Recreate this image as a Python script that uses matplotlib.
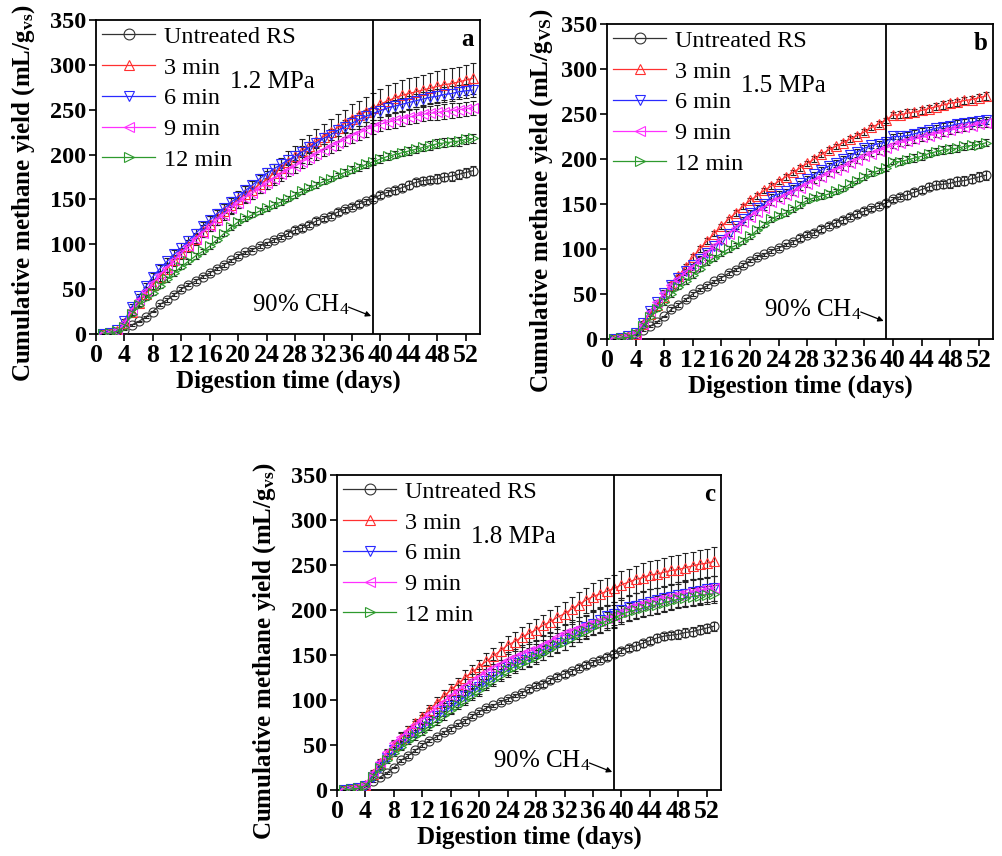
import matplotlib
matplotlib.use("Agg")
import matplotlib.pyplot as plt
import numpy as np

plt.rcParams['font.family'] = ['Liberation Serif', 'DejaVu Serif']
plt.rcParams['mathtext.fontset'] = 'custom'
plt.rcParams['mathtext.rm'] = 'Liberation Serif'
plt.rcParams['mathtext.bf'] = 'Liberation Serif:bold'
plt.rcParams['mathtext.it'] = 'Liberation Serif:italic'

days = list(range(1, 54))
series_labels = ["Untreated RS", "3 min", "6 min", "9 min", "12 min"]
x_ticks = list(range(0, 53, 4))
y_ticks = list(range(0, 351, 50))
pressures = ["1.2 MPa", "1.5 MPa", "1.8 MPa"]
panel_letters = ["a", "b", "c"]

untreated = [0, 1, 2, 5, 10, 14, 19, 25, 33, 38,
             44, 50, 55, 59, 64, 68, 73, 77, 82, 87,
             91, 94, 98, 101, 105, 108, 112, 116, 118, 122,
             126, 129, 132, 136, 139, 142, 145, 148, 151, 155,
             158, 160, 163, 166, 169, 171, 172, 173, 175, 176,
             178, 180, 182]
untreated_err = [0, 0, 1, 1, 1, 1, 1, 1, 2, 2,
                 2, 2, 2, 2, 2, 2, 2, 2, 2, 2,
                 2, 2, 2, 2, 2, 2, 3, 3, 3, 3,
                 3, 3, 3, 3, 3, 3, 3, 3, 3, 3,
                 3, 4, 4, 4, 4, 4, 4, 5, 5, 5,
                 5, 5, 5]

# Panel a (1.2 MPa)
a_3min = [0, 1, 3, 12, 24, 35, 45, 55, 64, 73,
          82, 90, 98, 106, 115, 123, 130, 137, 144, 150,
          156, 161, 167, 172, 179, 185, 192, 198, 204, 209,
          215, 220, 225, 230, 235, 240, 244, 248, 252, 256,
          260, 263, 266, 268, 270, 272, 274, 276, 278, 279,
          281, 283, 285]
a_6min = [0, 1, 4, 15, 30, 42, 53, 64, 73, 81,
          89, 96, 104, 112, 120, 127, 134, 140, 147, 153,
          160, 166, 173, 179, 184, 189, 194, 198, 203, 208,
          213, 218, 222, 227, 231, 235, 239, 243, 246, 249,
          252, 254, 256, 258, 260, 262, 264, 265, 267, 268,
          270, 271, 272]
a_9min = [0, 1, 3, 12, 27, 38, 48, 57, 66, 74,
          82, 90, 98, 106, 113, 120, 127, 133, 140, 146,
          152, 157, 163, 168, 173, 178, 183, 187, 192, 196,
          201, 205, 209, 213, 217, 221, 224, 228, 231, 234,
          236, 238, 240, 242, 243, 245, 246, 247, 248, 249,
          250, 251, 252]
a_12min = [0, 1, 3, 8, 22, 32, 40, 46, 54, 61,
           68, 75, 81, 87, 92, 98, 105, 112, 119, 125,
           129, 133, 137, 140, 144, 147, 151, 155, 159, 163,
           166, 170, 173, 177, 180, 183, 186, 189, 192, 195,
           198, 200, 202, 204, 206, 208, 210, 212, 213, 214,
           215, 217, 218]
a_3min_err = [0, 0, 1, 2, 3, 4, 4, 5, 5, 6,
              6, 6, 7, 7, 7, 8, 8, 8, 9, 9,
              9, 10, 10, 10, 11, 11, 12, 12, 13, 13,
              14, 14, 15, 15, 15, 16, 16, 16, 17, 17,
              17, 17, 17, 17, 17, 17, 17, 17, 17, 17,
              17, 17, 17]
a_6min_err = [0, 0, 1, 2, 3, 3, 4, 4, 4, 4,
              5, 5, 5, 5, 5, 5, 5, 5, 5, 5,
              5, 5, 5, 6, 6, 6, 6, 6, 6, 6,
              6, 6, 6, 6, 7, 7, 7, 7, 7, 7,
              7, 7, 7, 7, 7, 8, 8, 8, 8, 8,
              8, 8, 8]
a_9min_err = [0, 0, 1, 2, 3, 3, 4, 4, 4, 5,
              5, 5, 5, 5, 5, 5, 6, 6, 6, 6,
              6, 6, 6, 6, 7, 7, 7, 7, 7, 7,
              7, 7, 7, 8, 8, 8, 8, 8, 8, 8,
              8, 8, 8, 8, 8, 8, 8, 8, 8, 8,
              8, 8, 8]
a_12min_err = [0, 0, 1, 1, 2, 2, 2, 3, 3, 3,
               3, 3, 3, 3, 3, 3, 3, 3, 3, 3,
               3, 3, 3, 3, 3, 3, 3, 3, 3, 3,
               3, 3, 3, 3, 4, 4, 4, 4, 4, 4,
               4, 4, 4, 4, 4, 4, 5, 5, 5, 5,
               5, 5, 5]

# Panel b (1.5 MPa)
b_3min = [0, 1, 2, 6, 17, 28, 38, 47, 60, 70,
          80, 91, 100, 109, 117, 125, 133, 140, 147, 154,
          159, 165, 170, 175, 180, 185, 190, 195, 200, 205,
          210, 214, 218, 222, 226, 230, 235, 239, 243, 249,
          249, 251, 252, 254, 256, 258, 260, 262, 263, 265,
          266, 268, 270]
b_6min = [0, 1, 3, 7, 18, 31, 41, 51, 60, 68,
          75, 82, 89, 96, 103, 110, 117, 125, 133, 140,
          146, 150, 158, 161, 164, 168, 173, 178, 183, 188,
          192, 196, 200, 204, 208, 212, 215, 217, 219, 225,
          225, 226, 228, 230, 232, 234, 236, 237, 239, 240,
          241, 242, 243]
b_9min = [0, 1, 3, 6, 17, 30, 41, 51, 60, 67,
          74, 80, 88, 96, 103, 110, 117, 123, 130, 136,
          141, 146, 152, 156, 160, 163, 168, 172, 176, 180,
          184, 188, 191, 195, 199, 203, 206, 209, 212, 215,
          218, 220, 222, 224, 226, 228, 230, 232, 234, 235,
          237, 239, 240]
b_12min = [0, 1, 2, 5, 14, 24, 33, 41, 50, 58,
           64, 71, 78, 85, 90, 95, 100, 104, 109, 114,
           121, 127, 133, 137, 140, 144, 149, 154, 157, 159,
           161, 164, 167, 172, 176, 180, 184, 187, 190, 197,
           197, 199, 201, 203, 206, 208, 210, 211, 212, 214,
           215, 216, 218]
b_err = [0, 0, 1, 1, 2, 2, 2, 3, 3, 3,
         3, 3, 3, 3, 3, 3, 3, 3, 3, 3,
         3, 3, 3, 3, 3, 3, 3, 3, 3, 3,
         3, 3, 3, 3, 3, 3, 3, 3, 3, 3,
         4, 4, 4, 4, 4, 4, 4, 4, 4, 4,
         4, 4, 4]

# Panel c (1.8 MPa)
c_3min = [0, 1, 2, 6, 18, 30, 40, 50, 58, 66,
          74, 81, 89, 97, 104, 111, 118, 125, 131, 137,
          143, 149, 155, 161, 165, 170, 174, 178, 183, 187,
          192, 196, 201, 206, 211, 215, 218, 221, 224, 228,
          231, 234, 236, 239, 240, 242, 244, 245, 247, 249,
          251, 252, 254]
c_6min = [0, 1, 2, 5, 15, 26, 36, 44, 51, 58,
          64, 70, 76, 82, 88, 93, 99, 104, 110, 115,
          121, 126, 132, 137, 141, 145, 148, 152, 156, 160,
          163, 167, 172, 176, 181, 185, 189, 193, 196, 200,
          203, 205, 207, 209, 211, 213, 215, 217, 218, 220,
          221, 223, 224]
c_9min = [0, 1, 3, 7, 19, 31, 42, 52, 59, 66,
          72, 78, 85, 92, 98, 104, 110, 116, 121, 126,
          131, 136, 140, 144, 148, 151, 154, 157, 161, 165,
          170, 174, 177, 180, 183, 186, 188, 191, 193, 198,
          202, 205, 207, 209, 211, 213, 215, 217, 219, 220,
          222, 223, 224]
c_12min = [0, 1, 2, 5, 14, 24, 33, 41, 48, 55,
           60, 65, 71, 77, 83, 89, 95, 100, 106, 111,
           117, 122, 128, 133, 137, 141, 145, 148, 152, 157,
           161, 165, 169, 173, 177, 181, 185, 188, 191, 195,
           198, 200, 202, 204, 206, 208, 210, 212, 213, 215,
           216, 217, 218]
c_3min_err = [0, 0, 1, 2, 3, 3, 4, 4, 5, 5,
              5, 6, 6, 6, 7, 7, 7, 8, 8, 8,
              9, 9, 10, 10, 11, 11, 12, 12, 12, 13,
              13, 13, 14, 14, 14, 15, 15, 15, 15, 15,
              15, 15, 16, 16, 16, 16, 16, 16, 16, 16,
              16, 16, 16]
c_mid_err = [0, 0, 1, 2, 3, 3, 4, 4, 5, 5,
             5, 5, 6, 6, 6, 7, 7, 7, 8, 8,
             8, 8, 9, 9, 9, 10, 10, 10, 11, 11,
             11, 11, 12, 12, 12, 13, 13, 13, 13, 13,
             14, 14, 14, 14, 14, 14, 14, 14, 14, 14,
             14, 14, 14]
c_12min_err = [0, 0, 1, 1, 2, 2, 3, 3, 3, 4,
               4, 4, 4, 5, 5, 5, 5, 6, 6, 6,
               6, 6, 7, 7, 7, 7, 8, 8, 8, 8,
               8, 9, 9, 9, 9, 9, 10, 10, 10, 10,
               10, 10, 10, 10, 10, 10, 10, 10, 10, 10,
               10, 10, 10]

panels = [
    [untreated, a_3min, a_6min, a_9min, a_12min],
    [untreated, b_3min, b_6min, b_9min, b_12min],
    [untreated, c_3min, c_6min, c_9min, c_12min],
]
panel_errs = [
    [untreated_err, a_3min_err, a_6min_err, a_9min_err, a_12min_err],
    [untreated_err, b_err, b_err, b_err, b_err],
    [untreated_err, c_3min_err, c_mid_err, c_mid_err, c_12min_err],
]

colors = ["#333333", "#ff3030", "#2a2aff", "#ff30ff", "#2e9a2e"]
markers = ["o", "^", "v", "<", ">"]

W, H = 1002, 856
fig = plt.figure(figsize=(W / 100, H / 100), dpi=100)
# axes boxes in pixels: left, top, right, bottom
boxes = [(96, 20, 480, 334), (607, 24, 993, 339), (337, 475, 721, 790)]
ylabels = [r"Cumulative methane yield (mL/g$_{\mathbf{vs}}$)",
           r"Cumulative methane yield (mL/g$_{\mathbf{VS}}$)",
           r"Cumulative methane yield (mL/g$_{\mathbf{vs}}$)"]
ylabel_pos = [(-0.154, 0.45), (-0.135, 0.44), (-0.154, 0.44)]

for i, (l, t, r, b) in enumerate(boxes):
    ax = fig.add_axes([l / W, 1 - b / H, (r - l) / W, (b - t) / H])
    handles = []
    for j in range(5):
        ax.errorbar(days, panels[i][j], yerr=panel_errs[i][j], fmt='none',
                    ecolor='#222222', elinewidth=0.8, capsize=2.2, capthick=0.8,
                    zorder=2)
    for j in range(5):
        h, = ax.plot(days, panels[i][j], color=colors[j], lw=0.9,
                     marker=markers[j], markersize=6.5, markerfacecolor='none',
                     markeredgewidth=0.8, label=series_labels[j], zorder=3)
        handles.append(h)
    ax.axvline(39, color='black', lw=1.3, zorder=4)
    ax.set_xlim(0, 54)
    ax.set_ylim(0, 350)
    ax.set_xticks(x_ticks)
    ax.set_yticks(y_ticks)
    ax.tick_params(axis='both', direction='out', length=5, width=1.2,
                   pad=2, top=False, right=False)
    ax.tick_params(axis='x', labelsize=18.5)
    ax.tick_params(axis='y', labelsize=17.5)
    for lab in ax.get_xticklabels() + ax.get_yticklabels():
        lab.set_fontweight('bold')
    for sp in ax.spines.values():
        sp.set_linewidth(1.3)
    ax.set_xlabel("Digestion time (days)", fontsize=18, fontweight='bold', labelpad=2)
    ax.set_ylabel(ylabels[i], fontsize=18, fontweight='bold')
    ax.yaxis.set_label_coords(*ylabel_pos[i])
    leg = ax.legend(handles=handles, loc='upper left', bbox_to_anchor=(0.0, 1.0),
                    frameon=False, fontsize=17.5, handlelength=2.2, handletextpad=0.35,
                    labelspacing=0.36, borderaxespad=0.1, borderpad=0.14,
                    markerscale=1.2)
    ax.text(0.985, 0.975, panel_letters[i], transform=ax.transAxes, fontsize=18,
            fontweight='bold', ha='right', va='top')
    ax.text(18.8, 281, pressures[i], fontsize=18, ha='left', va='center')
    ax.annotate("", xy=(38.7, 20), xytext=(35.5, 30),
                arrowprops=dict(arrowstyle='-|>', color='black', lw=0.9,
                                mutation_scale=8, shrinkA=0, shrinkB=0))
    ax.text(22, 33, r"90% CH$_4$", fontsize=18, ha='left', va='center')

fig.savefig("out.png", dpi=100)
